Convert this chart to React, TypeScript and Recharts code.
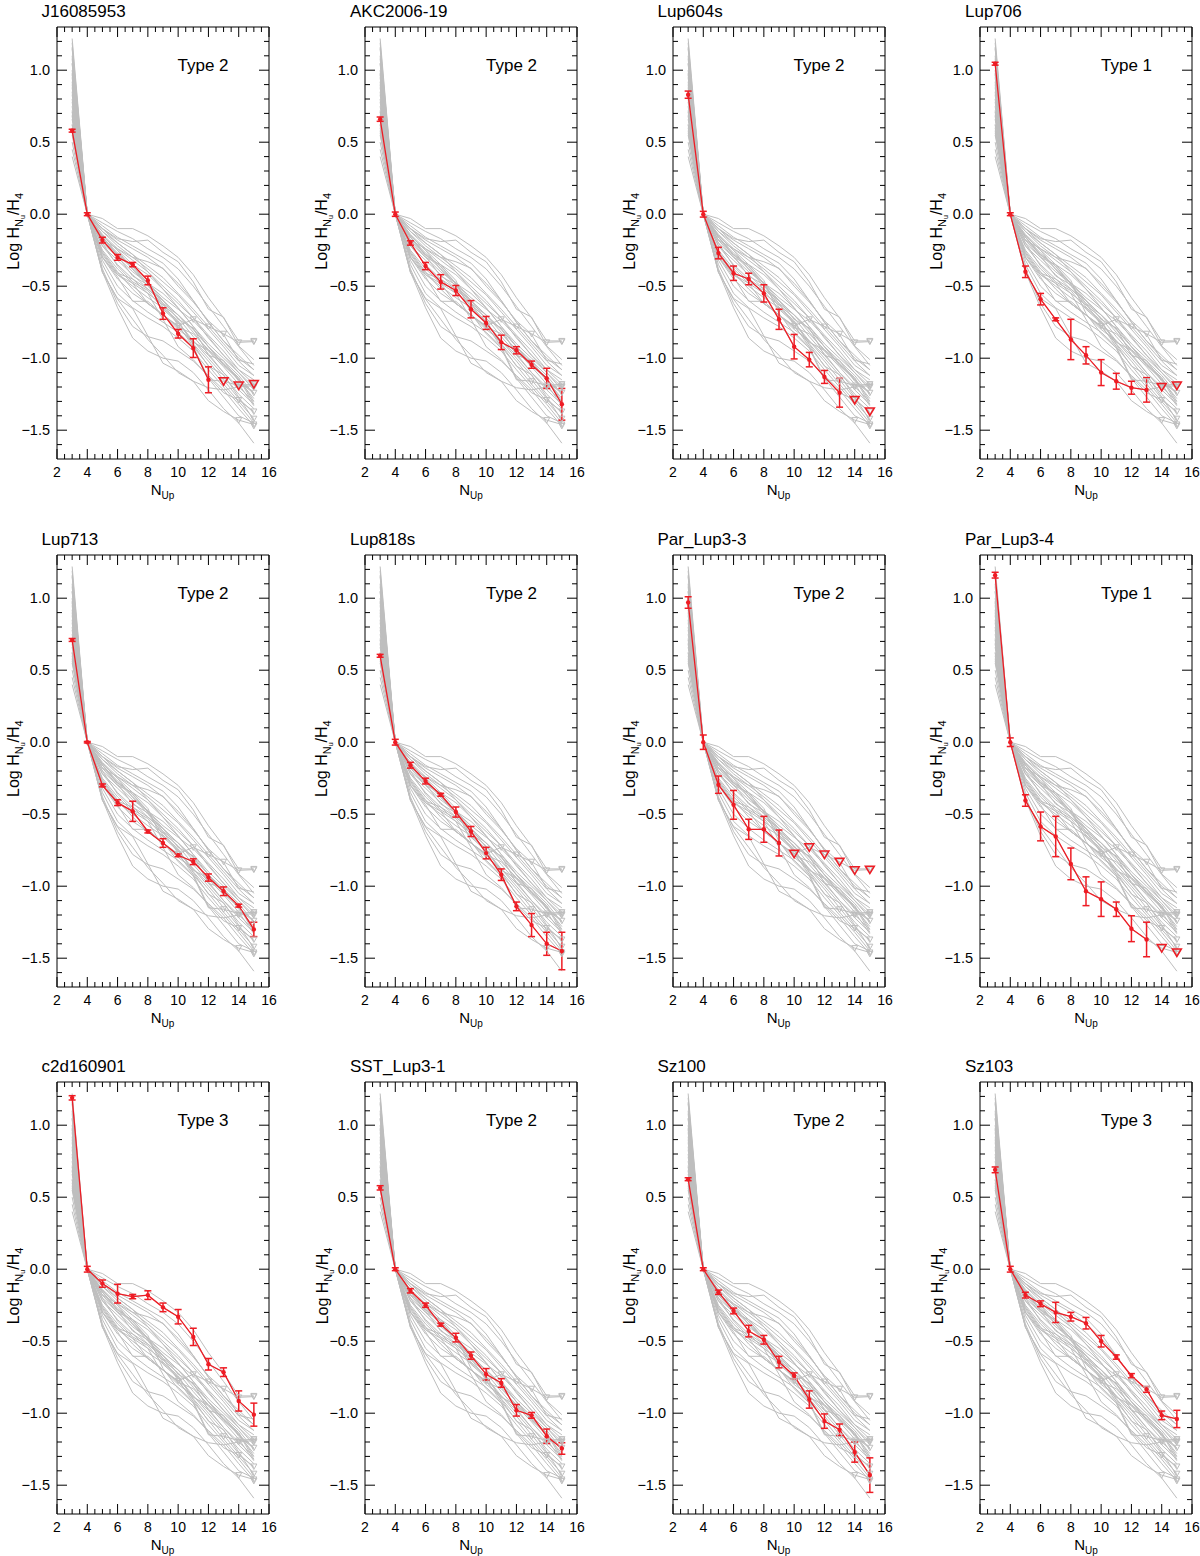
import React from "react";
import { ComposedChart, Line, XAxis, YAxis, ErrorBar } from "recharts";

const N_UP = [3, 4, 5, 6, 7, 8, 9, 10, 11, 12, 13, 14, 15];

const X_TICKS = [2, 2.5, 3, 3.5, 4, 4.5, 5, 5.5, 6, 6.5, 7, 7.5, 8, 8.5, 9, 9.5, 10, 10.5, 11, 11.5, 12, 12.5, 13, 13.5, 14, 14.5, 15, 15.5, 16];
const X_LABELS = [2, 4, 6, 8, 10, 12, 14, 16];
const Y_TICKS = [-1.6, -1.5, -1.4, -1.3, -1.2, -1.1, -1.0, -0.9, -0.8, -0.7, -0.6, -0.5, -0.4, -0.3, -0.2, -0.1, 0, 0.1, 0.2, 0.3, 0.4, 0.5, 0.6, 0.7, 0.8, 0.9, 1.0, 1.1, 1.2];
const Y_LABELS = [-1.5, -1.0, -0.5, 0, 0.5, 1.0];

// red sources: value, error, upper-limit flag per N_up
const j16085953Val = [0.58, 0, -0.18, -0.3, -0.35, -0.46, -0.69, -0.83, -0.93, -1.15, -1.16, -1.19, -1.18];
const j16085953Err = [0.01, 0.01, 0.02, 0.02, 0.015, 0.03, 0.04, 0.03, 0.065, 0.09, 0, 0, 0];
const j16085953Lim = [0, 0, 0, 0, 0, 0, 0, 0, 0, 0, 1, 1, 1];

const akc200619Val = [0.66, 0, -0.2, -0.36, -0.47, -0.53, -0.66, -0.755, -0.89, -0.945, -1.045, -1.14, -1.32];
const akc200619Err = [0.015, 0.015, 0.015, 0.025, 0.05, 0.035, 0.06, 0.045, 0.05, 0.025, 0.025, 0.07, 0.11];
const akc200619Lim = [0, 0, 0, 0, 0, 0, 0, 0, 0, 0, 0, 0, 0];

const lup604sVal = [0.83, 0, -0.27, -0.41, -0.45, -0.55, -0.73, -0.92, -1.01, -1.13, -1.24, -1.29, -1.37];
const lup604sErr = [0.025, 0.02, 0.04, 0.05, 0.04, 0.06, 0.07, 0.085, 0.05, 0.045, 0.1, 0, 0];
const lup604sLim = [0, 0, 0, 0, 0, 0, 0, 0, 0, 0, 0, 1, 1];

const lup706Val = [1.045, 0, -0.4, -0.59, -0.73, -0.87, -0.98, -1.1, -1.16, -1.205, -1.22, -1.2, -1.19];
const lup706Err = [0.01, 0.01, 0.04, 0.04, 0.01, 0.14, 0.06, 0.09, 0.055, 0.045, 0.085, 0, 0];
const lup706Lim = [0, 0, 0, 0, 0, 0, 0, 0, 0, 0, 0, 1, 1];

const lup713Val = [0.71, 0, -0.3, -0.42, -0.48, -0.62, -0.7, -0.785, -0.83, -0.94, -1.035, -1.135, -1.3];
const lup713Err = [0.01, 0.005, 0.01, 0.02, 0.07, 0.01, 0.03, 0.01, 0.02, 0.025, 0.03, 0.01, 0.05];
const lup713Lim = [0, 0, 0, 0, 0, 0, 0, 0, 0, 0, 0, 0, 0];

const lup818sVal = [0.6, 0, -0.16, -0.27, -0.365, -0.485, -0.62, -0.77, -0.92, -1.14, -1.27, -1.4, -1.45];
const lup818sErr = [0.01, 0.02, 0.02, 0.02, 0.01, 0.035, 0.035, 0.04, 0.04, 0.03, 0.08, 0.08, 0.13];
const lup818sLim = [0, 0, 0, 0, 0, 0, 0, 0, 0, 0, 0, 0, 0];

const parLup33Val = [0.97, 0, -0.295, -0.435, -0.605, -0.605, -0.7, -0.775, -0.73, -0.78, -0.83, -0.89, -0.885];
const parLup33Err = [0.04, 0.05, 0.06, 0.1, 0.07, 0.09, 0.09, 0, 0, 0, 0, 0, 0];
const parLup33Lim = [0, 0, 0, 0, 0, 0, 0, 1, 1, 1, 1, 1, 1];

const parLup34Val = [1.16, 0, -0.405, -0.585, -0.655, -0.845, -1.035, -1.09, -1.16, -1.295, -1.37, -1.43, -1.46];
const parLup34Err = [0.02, 0.03, 0.04, 0.1, 0.14, 0.11, 0.1, 0.12, 0.05, 0.09, 0.12, 0, 0];
const parLup34Lim = [0, 0, 0, 0, 0, 0, 0, 0, 0, 0, 0, 1, 1];

const c2d160901Val = [1.19, 0, -0.1, -0.17, -0.19, -0.18, -0.265, -0.33, -0.47, -0.66, -0.715, -0.915, -1.01];
const c2d160901Err = [0.015, 0.02, 0.025, 0.065, 0.015, 0.03, 0.03, 0.05, 0.06, 0.04, 0.03, 0.07, 0.08];
const c2d160901Lim = [0, 0, 0, 0, 0, 0, 0, 0, 0, 0, 0, 0, 0];

const sstLup31Val = [0.565, 0, -0.15, -0.25, -0.385, -0.475, -0.6, -0.73, -0.79, -0.98, -1.015, -1.16, -1.245];
const sstLup31Err = [0.015, 0.01, 0.015, 0.015, 0.01, 0.03, 0.025, 0.04, 0.03, 0.04, 0.02, 0.05, 0.04];
const sstLup31Lim = [0, 0, 0, 0, 0, 0, 0, 0, 0, 0, 0, 0, 0];

const sz100Val = [0.625, 0, -0.16, -0.29, -0.43, -0.49, -0.645, -0.74, -0.905, -1.055, -1.115, -1.27, -1.43];
const sz100Err = [0.01, 0.01, 0.015, 0.02, 0.04, 0.03, 0.04, 0.02, 0.06, 0.05, 0.04, 0.07, 0.12];
const sz100Lim = [0, 0, 0, 0, 0, 0, 0, 0, 0, 0, 0, 0, 0];

const sz103Val = [0.69, 0, -0.18, -0.24, -0.3, -0.33, -0.375, -0.5, -0.61, -0.74, -0.835, -1.015, -1.04];
const sz103Err = [0.02, 0.02, 0.02, 0.02, 0.07, 0.03, 0.04, 0.04, 0.015, 0.015, 0.02, 0.03, 0.06];
const sz103Lim = [0, 0, 0, 0, 0, 0, 0, 0, 0, 0, 0, 0, 0];

// other sample sources, drawn only as gray background lines
const gray01 = [1.22, 0, -0.03, -0.1, -0.1, -0.15, -0.22, -0.3, -0.42, -0.58, -0.72, -0.88, -0.88];
const gray02 = [1.15, 0, -0.06, -0.12, -0.17, -0.24, -0.3, -0.38, -0.5, -0.64, -0.78, -0.92, -1.05];
const gray03 = [1.1, 0, -0.1, -0.18, -0.24, -0.3, -0.38, -0.48, -0.6, -0.75, -0.88, -1.0, -1.08];
const gray04 = [1.05, 0, -0.12, -0.22, -0.3, -0.38, -0.47, -0.56, -0.68, -0.8, -0.92, -1.05, -1.12];
const gray05 = [1.0, 0, -0.15, -0.25, -0.35, -0.42, -0.52, -0.62, -0.72, -0.84, -0.95, -1.08, -1.18];
const gray06 = [0.95, 0, -0.2, -0.3, -0.4, -0.48, -0.55, -0.65, -0.78, -0.9, -1.0, -1.1, -1.2];
const gray07 = [0.92, 0, -0.22, -0.35, -0.45, -0.52, -0.6, -0.7, -0.8, -0.92, -1.05, -1.15, -1.28];
const gray08 = [0.9, 0, -0.25, -0.38, -0.48, -0.55, -0.63, -0.72, -0.85, -0.97, -1.1, -1.22, -1.32];
const gray09 = [0.88, 0, -0.28, -0.42, -0.5, -0.58, -0.65, -0.75, -0.88, -1.0, -1.12, -1.25, -1.35];
const gray10 = [0.85, 0, -0.3, -0.45, -0.55, -0.62, -0.7, -0.78, -0.9, -1.02, -1.15, -1.28, -1.38];
const gray11 = [0.8, 0, -0.32, -0.5, -0.6, -0.68, -0.75, -0.82, -0.92, -1.05, -1.18, -1.3, -1.42];
const gray12 = [0.78, 0, -0.35, -0.55, -0.65, -0.72, -0.78, -0.86, -0.95, -1.08, -1.2, -1.32, -1.45];
const gray13 = [0.75, 0, -0.38, -0.62, -0.78, -0.85, -0.88, -0.95, -1.02, -1.12, -1.22, -1.35, -1.47];
const gray14 = [0.72, 0, -0.4, -0.65, -0.86, -0.95, -1.0, -1.02, -1.1, -1.22, -1.35, -1.45, -1.59];
const gray15 = [0.68, 0, -0.18, -0.28, -0.36, -0.48, -0.58, -0.66, -0.74, -0.85, -0.98, -1.1, -1.22];
const gray16 = [0.62, 0, -0.14, -0.24, -0.32, -0.4, -0.5, -0.6, -0.72, -0.86, -0.98, -1.08, -1.15];
const gray17 = [0.55, 0, -0.08, -0.16, -0.22, -0.28, -0.34, -0.45, -0.6, -0.75, -0.88, -0.98, -1.08];
const gray18 = [0.5, 0, -0.12, -0.2, -0.28, -0.36, -0.44, -0.55, -0.66, -0.78, -0.9, -1.02, -1.12];
const gray19 = [0.45, 0, -0.22, -0.32, -0.42, -0.52, -0.62, -0.7, -0.8, -0.92, -1.02, -1.12, -1.25];
const gray20 = [0.4, 0, -0.26, -0.4, -0.52, -0.62, -0.7, -0.8, -0.88, -0.98, -1.1, -1.2, -1.3];
const gray21 = [0.98, 0, -0.1, -0.2, -0.28, -0.4, -0.52, -0.65, -0.78, -0.92, -1.04, -1.15, -1.24];
const gray22 = [1.08, 0, -0.16, -0.28, -0.38, -0.5, -0.6, -0.7, -0.82, -0.95, -1.06, -1.18, -1.33];
const grayLastIsLimit = [true, false, false, false, false, true, false, false, false, false, true, false, true, false, false, false, false, false, false, false, true, false];

const NAMES = ["J16085953", "AKC2006-19", "Lup604s", "Lup706", "Lup713", "Lup818s", "Par_Lup3-3", "Par_Lup3-4", "c2d160901", "SST_Lup3-1", "Sz100", "Sz103"];
const TYPES = ["Type 2", "Type 2", "Type 2", "Type 1", "Type 2", "Type 2", "Type 2", "Type 1", "Type 3", "Type 2", "Type 2", "Type 3"];

const SOURCES = [
  { val: j16085953Val, err: j16085953Err, lim: j16085953Lim },
  { val: akc200619Val, err: akc200619Err, lim: akc200619Lim },
  { val: lup604sVal, err: lup604sErr, lim: lup604sLim },
  { val: lup706Val, err: lup706Err, lim: lup706Lim },
  { val: lup713Val, err: lup713Err, lim: lup713Lim },
  { val: lup818sVal, err: lup818sErr, lim: lup818sLim },
  { val: parLup33Val, err: parLup33Err, lim: parLup33Lim },
  { val: parLup34Val, err: parLup34Err, lim: parLup34Lim },
  { val: c2d160901Val, err: c2d160901Err, lim: c2d160901Lim },
  { val: sstLup31Val, err: sstLup31Err, lim: sstLup31Lim },
  { val: sz100Val, err: sz100Err, lim: sz100Lim },
  { val: sz103Val, err: sz103Err, lim: sz103Lim },
];

const EXTRA_GRAY = [gray01, gray02, gray03, gray04, gray05, gray06, gray07, gray08, gray09, gray10, gray11, gray12, gray13, gray14, gray15, gray16, gray17, gray18, gray19, gray20, gray21, gray22];

const GRAY_LINES = [
  ...SOURCES.map((s) => ({ val: s.val, lim: s.lim.map((l) => l === 1) })),
  ...EXTRA_GRAY.map((v, k) => ({ val: v, lim: v.map((_, i) => grayLastIsLimit[k] && i === v.length - 1) })),
];

const FONT = "'Liberation Sans', Arial, Helvetica, sans-serif";
const RED = "#ee1c24";
const GREY = "#bebebe";
const PLOT_LEFTS = [56.5, 365, 672.5, 980];
const PLOT_TOPS = [27.3, 554.6, 1082];
const PLOT_W = 212;
const PLOT_H = 432;

const near = (v: number, list: number[]) => list.some((m) => Math.abs(m - v) < 1e-6);
const fmtY = (v: number) => (v < 0 ? "\u2212" : "") + Math.abs(v).toFixed(1);

function BottomTick(props: any) {
  const { x, y, payload } = props;
  const major = near(payload.value, X_LABELS);
  return (
    <g>
      <line x1={x} x2={x} y1={y} y2={y - (major ? 10 : 5)} stroke="#000" />
      {major && (
        <text x={x} y={y + 18} textAnchor="middle" fontSize={14} fontFamily={FONT} fill="#000">
          {payload.value}
        </text>
      )}
    </g>
  );
}

function TopTick(props: any) {
  const { x, y, payload } = props;
  const major = near(payload.value, X_LABELS);
  return <line x1={x} x2={x} y1={y} y2={y + (major ? 10 : 5)} stroke="#000" />;
}

function LeftTick(props: any) {
  const { x, y, payload } = props;
  const major = near(payload.value, Y_LABELS);
  return (
    <g>
      <line x1={x} x2={x + (major ? 10 : 5)} y1={y} y2={y} stroke="#000" />
      {major && (
        <text x={x - 7} y={y + 5} textAnchor="end" fontSize={14.5} fontFamily={FONT} fill="#000">
          {fmtY(payload.value)}
        </text>
      )}
    </g>
  );
}

function RightTick(props: any) {
  const { x, y, payload } = props;
  const major = near(payload.value, Y_LABELS);
  return <line x1={x} x2={x - (major ? 10 : 5)} y1={y} y2={y} stroke="#000" />;
}

function Panel({ idx }: { idx: number }) {
  const src = SOURCES[idx];
  const pl = PLOT_LEFTS[idx % 4];
  const pt = PLOT_TOPS[Math.floor(idx / 4)];
  const rows = N_UP.map((x, i) => {
    const r: any = { x };
    GRAY_LINES.forEach((g, k) => {
      r[`g${k}`] = g.val[i];
      r[`u${k}`] = g.lim[i];
    });
    r.red = src.lim[i] ? null : src.val[i];
    r.ul = src.lim[i] ? src.val[i] : null;
    r.err = src.lim[i] ? null : src.err[i];
    return r;
  });
  return (
    <div style={{ position: "absolute", left: pl - 60, top: pt - 30 }}>
      <ComposedChart width={300} height={527} data={rows} margin={{ top: 29, right: 27, bottom: 15, left: 0 }}>
        <XAxis xAxisId="b" dataKey="x" type="number" domain={[2, 16]} ticks={X_TICKS} interval={0} allowDataOverflow height={50} tickSize={0} tickMargin={0} tickLine={false} axisLine={{ stroke: "#000" }} tick={<BottomTick />} />
        <XAxis xAxisId="t" orientation="top" dataKey="x" type="number" domain={[2, 16]} ticks={X_TICKS} interval={0} allowDataOverflow height={1} tickSize={0} tickMargin={0} tickLine={false} axisLine={{ stroke: "#000" }} tick={<TopTick />} />
        <YAxis yAxisId="l" type="number" domain={[-1.7, 1.3]} ticks={Y_TICKS} interval={0} allowDataOverflow width={60} tickSize={0} tickMargin={0} tickLine={false} axisLine={{ stroke: "#000" }} tick={<LeftTick />} />
        <YAxis yAxisId="r" orientation="right" type="number" domain={[-1.7, 1.3]} ticks={Y_TICKS} interval={0} allowDataOverflow width={1} tickSize={0} tickMargin={0} tickLine={false} axisLine={{ stroke: "#000" }} tick={<RightTick />} />
        {GRAY_LINES.map((g, k) => (
          <Line
            key={`g${k}`}
            xAxisId="b"
            yAxisId="l"
            dataKey={`g${k}`}
            stroke={GREY}
            strokeWidth={1}
            isAnimationActive={false}
            activeDot={false}
            dot={
              g.lim.some((l) => l)
                ? (p: any) =>
                    p.payload && p.payload[`u${k}`] && p.cy != null ? (
                      <polygon key={`gd${k}-${p.index}`} points={`${p.cx - 3},${p.cy - 2.5} ${p.cx + 3},${p.cy - 2.5} ${p.cx},${p.cy + 3}`} fill="none" stroke={GREY} strokeWidth={1} />
                    ) : (
                      <g key={`gd${k}-${p.index}`} />
                    )
                : false
            }
          />
        ))}
        <Line
          xAxisId="b"
          yAxisId="l"
          dataKey="red"
          stroke={RED}
          strokeWidth={1.3}
          isAnimationActive={false}
          activeDot={false}
          dot={(p: any) =>
            p.cy != null && p.value != null ? <circle key={`rd${p.index}`} cx={p.cx} cy={p.cy} r={2.2} fill={RED} stroke="none" /> : <g key={`rd${p.index}`} />
          }
        >
          <ErrorBar dataKey="err" direction="y" width={3.5} stroke={RED} strokeWidth={1.5} isAnimationActive={false} />
        </Line>
        <Line
          xAxisId="b"
          yAxisId="l"
          dataKey="ul"
          stroke="none"
          isAnimationActive={false}
          activeDot={false}
          dot={(p: any) =>
            p.cy != null && p.value != null ? (
              <polygon key={`ul${p.index}`} points={`${p.cx - 4.5},${p.cy - 3.5} ${p.cx + 4.5},${p.cy - 3.5} ${p.cx},${p.cy + 4}`} fill="none" stroke={RED} strokeWidth={1.5} />
            ) : (
              <g key={`ul${p.index}`} />
            )
          }
        />
      </ComposedChart>
    </div>
  );
}

function Labels() {
  const items: React.ReactNode[] = [];
  NAMES.forEach((name, idx) => {
    const pl = PLOT_LEFTS[idx % 4];
    const pt = PLOT_TOPS[Math.floor(idx / 4)];
    const yx = pl - 37.5;
    const yy = pt + 204;
    items.push(
      <g key={name}>
        <text x={pl - 15} y={pt - 10} fontSize={17}>{name}</text>
        <text x={pl + 121} y={pt + 44} fontSize={17}>{TYPES[idx]}</text>
        <text x={yx} y={yy} fontSize={16} textAnchor="middle" transform={`rotate(-90 ${yx} ${yy})`}>
          Log H
          <tspan fontSize={11} dy={4}>N</tspan>
          <tspan fontSize={7} dy={2}>u</tspan>
          <tspan fontSize={16} dy={-6}>/H</tspan>
          <tspan fontSize={11} dy={4}>4</tspan>
        </text>
        <text x={pl + PLOT_W / 2} y={pt + PLOT_H + 36} fontSize={15} textAnchor="middle">
          N<tspan fontSize={10} dy={4}>Up</tspan>
        </text>
      </g>
    );
  });
  return (
    <svg width={1200} height={1556} style={{ position: "absolute", left: 0, top: 0, pointerEvents: "none" }} fontFamily={FONT} fill="#000">
      {items}
    </svg>
  );
}

export default function App() {
  return (
    <div style={{ position: "absolute", left: 0, top: 0, width: 1200, height: 1556, background: "#fff", overflow: "hidden" }}>
      {NAMES.map((n, i) => (
        <Panel key={n} idx={i} />
      ))}
      <Labels />
    </div>
  );
}
